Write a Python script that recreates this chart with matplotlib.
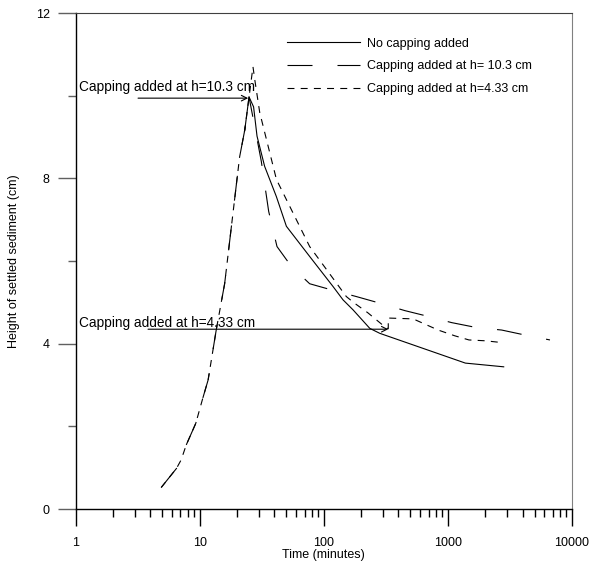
import numpy as np
import matplotlib
matplotlib.use('Agg')
import matplotlib.pyplot as plt
from matplotlib.ticker import FixedLocator, LogLocator, NullFormatter

plt.rcParams['font.family'] = ['Liberation Sans', 'DejaVu Sans']
plt.rcParams['lines.scale_dashes'] = False

# Rising part shared by the dashed runs (time in minutes, height in cm)
rise_t = [4.9, 6.5, 7.1, 7.8, 9.3, 10.6, 11.7, 13.6, 15.9, 21.0, 23.1]
rise_h = [0.52, 0.98, 1.19, 1.55, 2.07, 2.68, 3.12, 4.33, 5.45, 8.52, 9.17]

# No capping added
nocap_t = [23.1, 25.0, 27.2, 29.0, 33.4, 41.5, 50.0, 77.0, 119.0, 143.0, 172.0, 235.0, 283.0, 1384.0, 2818.0]
nocap_h = [9.17, 9.97, 9.73, 9.02, 8.29, 7.56, 6.84, 6.11, 5.38, 5.06, 4.82, 4.37, 4.25, 3.53, 3.44]

# Capping added at h = 10.3 cm
cap10_t = rise_t + [25.0, 31.4, 36.0, 42.0, 54.8, 77.0, 119.0, 183.0, 283.0, 450.0, 694.0, 1071.0, 1702.0, 2711.0, 4170.0, 6650.0]
cap10_h = rise_h + [9.97, 8.41, 7.20, 6.35, 5.87, 5.45, 5.29, 5.14, 4.98, 4.80, 4.66, 4.51, 4.39, 4.33, 4.21, 4.09]

# Capping added at h = 4.33 cm
cap4_t = rise_t + [26.9, 27.8, 30.5, 41.6, 77.0, 152.0, 175.0, 226.0, 310.0, 331.0, 331.0, 525.0, 835.0, 1138.0, 1480.0, 2000.0, 2660.0]
cap4_h = rise_h + [10.70, 10.39, 9.59, 7.97, 6.35, 5.14, 4.99, 4.75, 4.41, 4.36, 4.62, 4.60, 4.33, 4.19, 4.09, 4.07, 4.03]

x_ticks = [1, 10, 100, 1000, 10000]
x_ticklabels = ['1', '10', '100', '1000', '10000']
y_ticks = [0, 4, 8, 12]
y_minor = [2, 6, 10]

fig = plt.figure(figsize=(5.91, 5.63), dpi=100)
ax = fig.add_axes([0.1278, 0.0959, 0.840, 0.881])

lw = 0.8
ax.plot(nocap_t, nocap_h, color='black', lw=lw, label='No capping added')
ax.plot(cap10_t, cap10_h, color='black', lw=lw, dashes=(18, 18), label='Capping added at h= 10.3 cm')
ax.plot(cap4_t, cap4_h, color='black', lw=lw, dashes=(5, 4.5), label='Capping added at h=4.33 cm')

ax.set_xscale('log')
ax.set_xlim(1, 10000)
ax.set_ylim(0, 12)

ax.set_xticks(x_ticks)
ax.set_xticklabels(x_ticklabels)
ax.xaxis.set_minor_locator(LogLocator(base=10, subs=np.arange(2, 10)))
ax.xaxis.set_minor_formatter(NullFormatter())
ax.set_yticks(y_ticks)
ax.yaxis.set_minor_locator(FixedLocator(y_minor))

ax.tick_params(axis='both', which='major', direction='out', length=12.5, width=1.0, labelsize=9)
ax.tick_params(axis='both', which='minor', direction='out', length=5.5, width=1.0)
ax.tick_params(axis='x', which='major', pad=7.5)
ax.tick_params(axis='y', which='major', length=13, pad=5.5, color='#606060')
ax.tick_params(axis='y', which='minor', color='#606060')
ax.tick_params(axis='x', which='both', color='black')

for side in ['left', 'bottom']:
    ax.spines[side].set_color('black')
    ax.spines[side].set_linewidth(1.0)
ax.spines['top'].set_color('#404040')
ax.spines['right'].set_color('#808080')

ax.set_xlabel('Time (minutes)', fontsize=9, va='center')
ax.xaxis.set_label_coords(0.5, -0.0925)
ax.set_ylabel('Height of settled sediment (cm)', fontsize=9, va='center')
ax.yaxis.set_label_coords(-0.124, 0.5)

# Capping arrows
ax.annotate('', xy=(24.6, 9.94), xytext=(3.19, 9.94),
            arrowprops=dict(arrowstyle='->', lw=0.8, color='black', shrinkA=0, shrinkB=0))
ax.text(1.067, 10.21, 'Capping added at h=10.3 cm', fontsize=9.8, va='center', ha='left')

ax.annotate('', xy=(331, 4.35), xytext=(3.84, 4.35),
            arrowprops=dict(arrowstyle='->', lw=0.8, color='black', shrinkA=0, shrinkB=0))
ax.text(1.067, 4.50, 'Capping added at h=4.33 cm', fontsize=9.8, va='center', ha='left')

ax.legend(loc='upper left', bbox_to_anchor=(0.4254, 0.950), frameon=False, fontsize=9,
          borderpad=0, borderaxespad=0, handlelength=5.9, handletextpad=0.5, labelspacing=0.85)

fig.savefig('out.png', dpi=100)
